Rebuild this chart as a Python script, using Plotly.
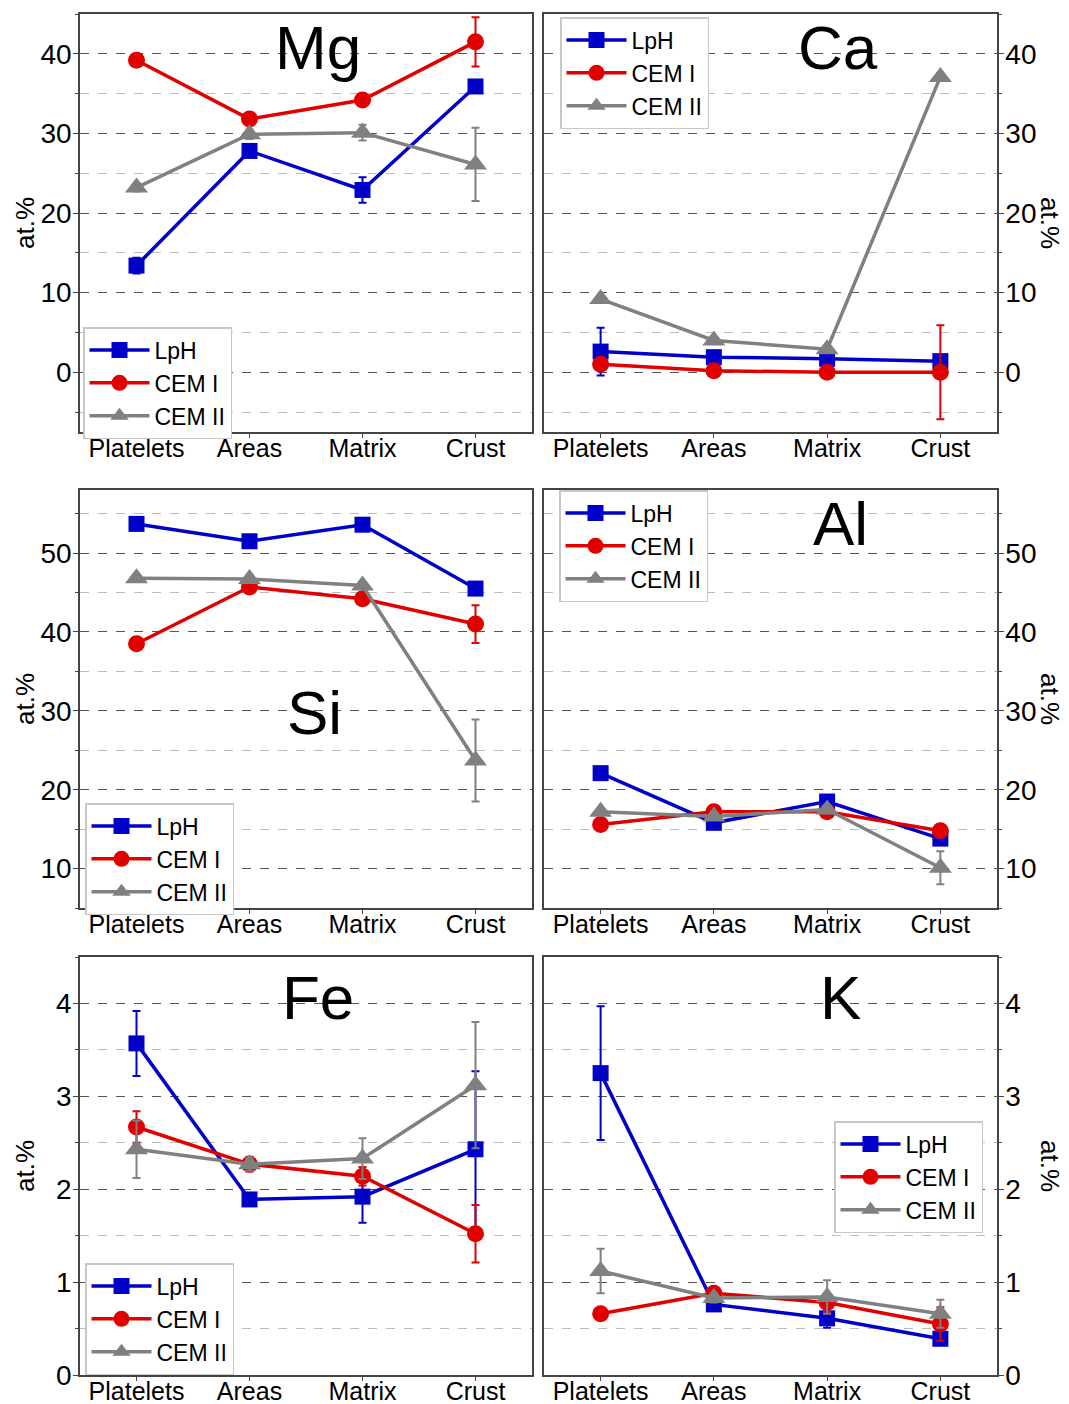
import plotly.graph_objects as go

categories = ["Platelets", "Areas", "Matrix", "Crust"]
series_names = ["LpH", "CEM I", "CEM II"]
elements = ["Mg", "Ca", "Si", "Al", "Fe", "K"]

# values (at.%) per element: LpH, CEM I, CEM II
mg_lph = [13.4, 27.8, 22.9, 35.9]
mg_lph_err = [1.0, 0.5, 1.6, 0.5]
mg_cem1 = [39.2, 31.8, 34.2, 41.5]
mg_cem1_err = [0.4, 0.6, 0.5, 3.1]
mg_cem2 = [23.2, 29.9, 30.1, 26.1]
mg_cem2_err = [0.5, 0.6, 1.0, 4.6]

ca_lph = [2.6, 1.9, 1.7, 1.4]
ca_lph_err = [3.0, 0.5, 0.4, 0.4]
ca_cem1 = [1.0, 0.2, 0.0, 0.0]
ca_cem1_err = [0.3, 0.2, 0.1, 5.9]
ca_cem2 = [9.2, 4.0, 2.9, 37.1]
ca_cem2_err = [0.3, 0.3, 0.3, 0.3]

si_lph = [53.7, 51.5, 53.6, 45.5]
si_lph_err = [0.3, 0.7, 0.3, 0.7]
si_cem1 = [38.5, 45.7, 44.2, 41.0]
si_cem1_err = [0.3, 0.5, 0.5, 2.4]
si_cem2 = [46.8, 46.7, 45.9, 23.7]
si_cem2_err = [0.4, 0.4, 0.4, 5.2]

al_lph = [22.1, 15.8, 18.5, 13.8]
al_lph_err = [0.3, 0.4, 0.5, 0.4]
al_cem1 = [15.6, 17.2, 17.2, 14.8]
al_cem1_err = [0.3, 0.3, 0.4, 0.4]
al_cem2 = [17.2, 16.6, 17.5, 10.1]
al_cem2_err = [0.3, 0.4, 0.5, 2.1]

fe_lph = [3.57, 1.89, 1.92, 2.43]
fe_lph_err = [0.35, 0.05, 0.28, 0.84]
fe_cem1 = [2.67, 2.27, 2.14, 1.52]
fe_cem1_err = [0.17, 0.08, 0.10, 0.31]
fe_cem2 = [2.43, 2.27, 2.33, 3.12]
fe_cem2_err = [0.31, 0.07, 0.22, 0.68]

k_lph = [3.25, 0.76, 0.61, 0.39]
k_lph_err = [0.72, 0.04, 0.10, 0.05]
k_cem1 = [0.66, 0.88, 0.78, 0.55]
k_cem1_err = [0.03, 0.04, 0.10, 0.18]
k_cem2 = [1.12, 0.83, 0.84, 0.66]
k_cem2_err = [0.24, 0.05, 0.18, 0.15]

y_ranges = [[-7.5, 45], [-7.5, 45], [5, 58], [5, 58], [0, 4.5], [0, 4.5]]
y_dticks = [10, 10, 10, 10, 1, 1]

data = {
    "Mg": [(mg_lph, mg_lph_err), (mg_cem1, mg_cem1_err), (mg_cem2, mg_cem2_err)],
    "Ca": [(ca_lph, ca_lph_err), (ca_cem1, ca_cem1_err), (ca_cem2, ca_cem2_err)],
    "Si": [(si_lph, si_lph_err), (si_cem1, si_cem1_err), (si_cem2, si_cem2_err)],
    "Al": [(al_lph, al_lph_err), (al_cem1, al_cem1_err), (al_cem2, al_cem2_err)],
    "Fe": [(fe_lph, fe_lph_err), (fe_cem1, fe_cem1_err), (fe_cem2, fe_cem2_err)],
    "K": [(k_lph, k_lph_err), (k_cem1, k_cem1_err), (k_cem2, k_cem2_err)],
}

colors = ["#0000C8", "#E00000", "#808080"]
symbols = ["square", "circle", "triangle-up"]
msizes = [16, 17, 20]

W, H = 1069, 1404
FONT = "Arial, Liberation Sans, sans-serif"

# panel boxes in pixels (left, right, top, bottom)
xcols = [(80, 532), (544, 997)]
yrows = [(14, 432), (490, 908), (957, 1375)]

# legend positions in pixels (left, top)
legend_pos = [(83, 327), (560, 17), (85, 803), (559, 490), (85, 1263), (834, 1121)]
# element label positions in pixels (center x, center y)
label_pos = [(318, 48), (838, 47), (315, 712), (840, 523), (318, 997), (840, 997)]

fig = go.Figure()
layout = dict(
    template="none",
    width=W, height=H,
    margin=dict(l=0, r=0, t=0, b=0, autoexpand=False),
    paper_bgcolor="white", plot_bgcolor="white",
    font=dict(family=FONT, color="black"),
    showlegend=True,
)
annotations = []

for i, el in enumerate(elements):
    row, col = divmod(i, 2)
    xl, xr = xcols[col]
    yt, yb = yrows[row]
    ax = "" if i == 0 else str(i + 1)
    leg = "legend" if i == 0 else "legend" + str(i + 1)
    for s, (vals, errs) in enumerate(data[el]):
        fig.add_trace(go.Scatter(
            x=categories, y=vals,
            error_y=dict(type="data", array=errs, visible=True, color=colors[s],
                         thickness=2, width=4),
            mode="lines+markers", name=series_names[s],
            line=dict(color=colors[s], width=3.5),
            marker=dict(color=colors[s], symbol=symbols[s], size=msizes[s]),
            xaxis="x" + ax, yaxis="y" + ax, legend=leg,
        ))
    side = "left" if col == 0 else "right"
    layout["xaxis" + ax] = dict(
        domain=[xl / W, xr / W], anchor="y" + ax, automargin=False,
        type="category", range=[-0.5, 3.5],
        showline=True, linecolor="#444", linewidth=1.5, mirror=True,
        ticks="outside", ticklen=4, tickcolor="#444", ticklabelstandoff=-11,
        tickfont=dict(size=25, family=FONT, color="black"),
        showgrid=False, zeroline=False,
    )
    layout["yaxis" + ax] = dict(
        domain=[1 - yb / H, 1 - yt / H], anchor="x" + ax, side=side,
        automargin=False,
        range=y_ranges[i], dtick=y_dticks[i], tick0=0,
        showline=True, linecolor="#444", linewidth=1.5, mirror=True,
        ticks="outside", ticklen=5, tickcolor="#444", ticklabelstandoff=-4,
        tickfont=dict(size=28, family=FONT, color="black"),
        showgrid=True, gridcolor="#555", griddash="dash", gridwidth=1,
        zeroline=False,
        minor=dict(dtick=y_dticks[i] / 2, tick0=0, showgrid=True, gridcolor="#bbb",
                   griddash="dash", ticks="outside", ticklen=3, tickcolor="#444"),
    )
    lx, ly = legend_pos[i]
    layout[leg] = dict(
        x=lx / W, y=1 - ly / H, xanchor="left", yanchor="top",
        xref="paper", yref="paper",
        bgcolor="white", bordercolor="#c8c8c8", borderwidth=1.5,
        font=dict(size=23, family=FONT, color="black"),
        itemwidth=60, tracegroupgap=0,
    )
    cx, cy = label_pos[i]
    annotations.append(dict(
        x=cx / W, y=1 - cy / H, xref="paper", yref="paper",
        text=el, showarrow=False, font=dict(size=62, family=FONT, color="black"),
        xanchor="center", yanchor="middle",
    ))
    # axis title
    if col == 0:
        annotations.append(dict(
            x=25 / W, y=1 - (yt + yb) / 2 / H, xref="paper", yref="paper",
            text="at.%", showarrow=False, textangle=-90,
            font=dict(size=26, family=FONT, color="black"),
            xanchor="center", yanchor="middle",
        ))
    else:
        annotations.append(dict(
            x=1050 / W, y=1 - (yt + yb) / 2 / H, xref="paper", yref="paper",
            text="at.%", showarrow=False, textangle=90,
            font=dict(size=26, family=FONT, color="black"),
            xanchor="center", yanchor="middle",
        ))

layout["annotations"] = annotations
fig.update_layout(**layout)
fig.write_html(
    "out.html",
    config={"displayModeBar": False},
    post_script="document.body.style.margin='0';document.body.style.overflow='hidden';",
)
